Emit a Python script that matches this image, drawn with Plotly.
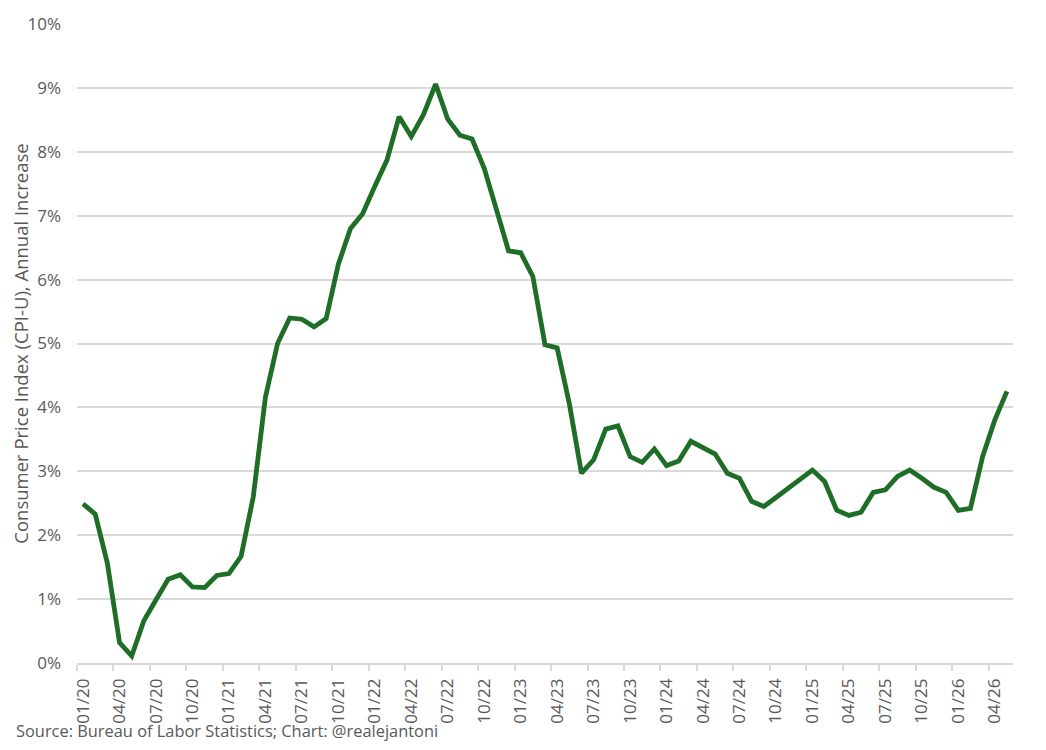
import plotly.graph_objects as go

# month labels, 01/20 .. 05/26
months = ['%02d/%02d' % (m, y) for y in range(20, 27) for m in range(1, 13)][:77]

# CPI-U annual increase, %
cpi_2020 = [2.49, 2.33, 1.56, 0.32, 0.11, 0.66, 0.99, 1.31, 1.38, 1.19, 1.18, 1.37]
cpi_2021 = [1.40, 1.67, 2.60, 4.16, 5.00, 5.40, 5.38, 5.26, 5.39, 6.24, 6.80, 7.03]
cpi_2022 = [7.46, 7.87, 8.55, 8.24, 8.58, 9.06, 8.51, 8.26, 8.20, 7.74, 7.10, 6.45]
cpi_2023 = [6.42, 6.05, 4.98, 4.93, 4.06, 2.97, 3.18, 3.66, 3.71, 3.23, 3.14, 3.35]
cpi_2024 = [3.09, 3.16, 3.47, 3.38, 3.27, 2.97, 2.89, 2.53, 2.45, 2.59, 2.73, 2.88]
cpi_2025 = [3.02, 2.84, 2.39, 2.31, 2.36, 2.67, 2.71, 2.92, 3.02, 2.89, 2.75, 2.67]
cpi_2026 = [2.39, 2.42, 3.23, 3.80, 4.25]

cpi = cpi_2020 + cpi_2021 + cpi_2022 + cpi_2023 + cpi_2024 + cpi_2025 + cpi_2026
cpi = [v / 100 for v in cpi]
xpos = list(range(len(months)))

grey_text = '#595959'
grid = '#d9d9d9'
font = 'Open Sans'

fig = go.Figure(go.Scatter(x=xpos, y=cpi, mode='lines',
                           line=dict(color='#1e6e28', width=4.8),
                           hoverinfo='skip'))

# page body has an 8px margin, so the figure is a bit smaller than the window
fig.update_layout(
    width=1030, height=734,
    margin=dict(l=69, r=25, t=16, b=79),
    paper_bgcolor='white', plot_bgcolor='white',
    showlegend=False,
    font=dict(family=font, color=grey_text, size=17),
)

fig.update_xaxes(
    range=[-0.5, len(months) - 0.5], automargin=False,
    tickmode='array', tickvals=xpos[::3], ticktext=months[::3],
    tickangle=-90, ticks='', ticklabelstandoff=7,
    tickfont=dict(size=17, color=grey_text, family=font),
    showgrid=False, zeroline=False,
    showline=True, linecolor=grid, linewidth=1.5,
    minor=dict(tickmode='array', tickvals=[v - 0.5 for v in xpos[::3]],
               ticks='outside', ticklen=6, tickcolor=grid, tickwidth=1.5,
               showgrid=False),
)

fig.update_yaxes(
    range=[0, 0.1], dtick=0.01, tickformat='.0%', automargin=False,
    ticks='', ticklabelstandoff=15,
    tickfont=dict(size=17, color=grey_text, family=font),
    showgrid=True, gridcolor=grid, gridwidth=1.5,
    zeroline=False, showline=False,
    title=dict(text='Consumer Price Index (CPI-U), Annual Increase',
               font=dict(size=18.5, color=grey_text, family=font), standoff=4),
)

fig.add_annotation(text='Source: Bureau of Labor Statistics; Chart: @realejantoni',
                   xref='paper', yref='paper', x=-0.066, y=-0.1055,
                   xanchor='left', yanchor='middle', showarrow=False,
                   borderpad=0,
                   font=dict(size=16.4, color=grey_text, family=font))

fig.write_html('out.html')
